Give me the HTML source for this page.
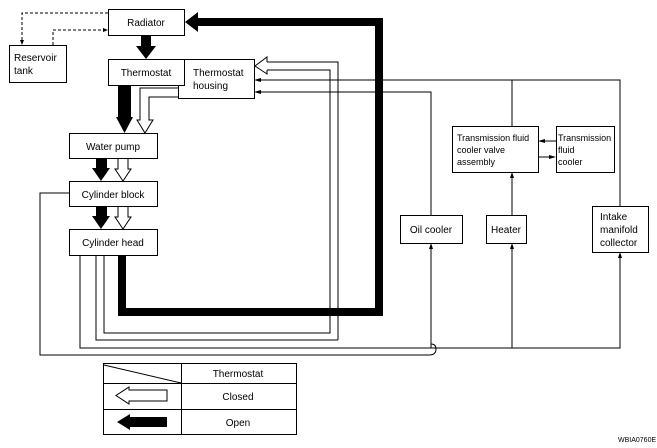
<!DOCTYPE html>
<html><head><style>body{margin:0;background:#fff}svg{display:block}text{font-family:"Liberation Sans",sans-serif;font-size:10px;fill:#000}</style></head><body>
<svg width="657" height="448" viewBox="0 0 657 448" xmlns="http://www.w3.org/2000/svg">
<g fill="none" stroke="#000" stroke-width="1">
<path d="M108 13 H22 V42" stroke-dasharray="3,2"/>
<path d="M53 45 V30 H104" stroke-dasharray="3,2"/>
</g>
<polygon points="20,40 24,40 22,45" fill="#000"/>
<polygon points="103,28 108,30 103,32" fill="#000"/>
<!-- thin lines first -->
<g fill="none" stroke="#000" stroke-width="1">
<path d="M338 340 V62 H267"/>
<path d="M267 70 H330 V333 H104 V256"/>
<path d="M96 256 V340 H338"/>
<path d="M80 256 V348 H620 V256"/>
<path d="M69 193 H40 V355 H429 Q436 355 436 349 Q436 344 431 344"/>
<path d="M431 348 V248"/><path d="M512 348 V248"/>
<path d="M260 80 H620 V206"/>
<path d="M512 80 V126"/>
<path d="M260 92 H431 V215"/>
<path d="M512 215 V178"/>
<path d="M556 141 H544"/><path d="M538 157 H550"/>
</g>
<path d="M267 62 V57 L255 66 L267 74 V70" fill="#fff" stroke="#000" stroke-width="1"/>
<!-- boxes -->
<g fill="#fff" stroke="#000" stroke-width="1">
<rect x="108.5" y="9.5" width="76" height="26"/>
<rect x="9.5" y="45.5" width="57" height="37"/>
<rect x="178.5" y="59.5" width="76" height="39"/>
<rect x="108.5" y="59.5" width="76" height="26"/>
<rect x="69.5" y="133.5" width="88" height="25"/>
<rect x="69.5" y="181.5" width="88" height="25"/>
<rect x="69.5" y="229.5" width="88" height="26"/>
<rect x="452.5" y="126.5" width="86" height="46"/>
<rect x="556.5" y="126.5" width="58" height="46"/>
<rect x="400.5" y="215.5" width="62" height="28"/>
<rect x="486.5" y="215.5" width="40" height="28"/>
<rect x="592.5" y="206.5" width="56" height="46"/>
</g>
<text x="146" y="26" text-anchor="middle">Radiator</text>
<text x="14" y="61">Reservoir</text><text x="14" y="74">tank</text>
<text x="146" y="76" text-anchor="middle">Thermostat</text>
<text x="193" y="76">Thermostat</text><text x="193" y="89">housing</text>
<text x="113" y="150" text-anchor="middle">Water pump</text>
<text x="113" y="198" text-anchor="middle">Cylinder block</text>
<text x="113" y="246" text-anchor="middle">Cylinder head</text>
<text x="457" y="141" style="font-size:9px">Transmission fluid</text>
<text x="457" y="153" style="font-size:9px">cooler valve</text>
<text x="457" y="165" style="font-size:9px">assembly</text>
<text x="558" y="141" style="font-size:9px">Transmission</text>
<text x="558" y="153" style="font-size:9px">fluid</text>
<text x="558" y="165" style="font-size:9px">cooler</text>
<text x="431" y="233" text-anchor="middle">Oil cooler</text>
<text x="506" y="233" text-anchor="middle">Heater</text>
<text x="600" y="220">Intake</text><text x="600" y="233">manifold</text><text x="600" y="246">collector</text>
<g fill="#000">
<rect x="141" y="35" width="10" height="12"/><polygon points="136,46 156,46 146,59"/>
<rect x="118" y="86" width="13" height="32"/><polygon points="116,117 133,117 124.5,133"/>
<rect x="96" y="159" width="11" height="10"/><polygon points="92,168 110,168 101,181"/>
<rect x="96" y="207" width="11" height="10"/><polygon points="92,216 110,216 101,229"/>
</g>
<path d="M122 256 V312 H379 V22 H197" fill="none" stroke="#000" stroke-width="8"/>
<polygon points="198,12 185,22 198,32" fill="#000"/>
<g fill="#fff" stroke="#000" stroke-width="1">
<path d="M178 88 H140 V120 H137 L145 133 L153 120 H149 V97 H178"/>
<path d="M118 159 V169 H115 L123 181 L131 169 H128 V159"/>
<path d="M118 207 V217 H115 L123 229 L131 217 H128 V207"/>
</g>
<g fill="#000">
<polygon points="254,80 261,78 261,82"/><polygon points="254,92 261,90 261,94"/>
<polygon points="429,249 433,249 431,243"/><polygon points="510,249 514,249 512,243"/>
<polygon points="618,258 622,258 620,252"/><polygon points="510,178 514,178 512,172"/>
<polygon points="538,141 545,139 545,143"/><polygon points="556,157 549,155 549,159"/>
</g>
<g fill="none" stroke="#000" stroke-width="1">
<rect x="103.5" y="363.5" width="193" height="71"/>
<path d="M181.5 363 V435 M103 383.5 H297 M103 409.5 H297 M104 365 L181 383"/>
<path d="M167 390 V401 H129 V404 L116 395.5 L129 387 V390 Z" fill="#fff"/>
</g>
<path d="M167 417 V427 H130 V430 L117 422 L130 414 V417 Z" fill="#000"/>
<text x="238" y="377" text-anchor="middle">Thermostat</text>
<text x="238" y="400" text-anchor="middle">Closed</text>
<text x="238" y="426" text-anchor="middle">Open</text>
<text x="618" y="442" style="font-size:7px">WBIA0760E</text>
</svg>
</body></html>
